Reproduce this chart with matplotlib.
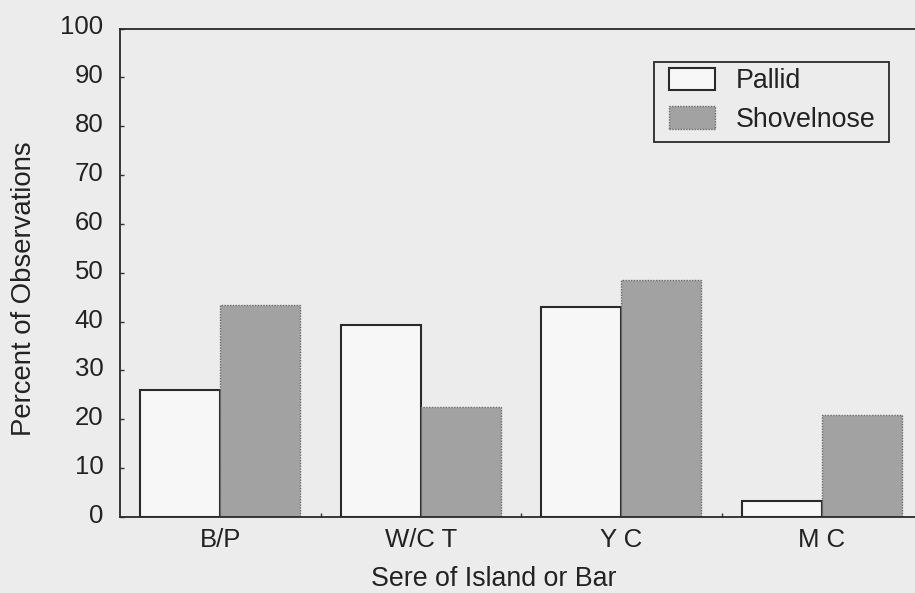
import numpy as np
import matplotlib
matplotlib.use('Agg')
import matplotlib.pyplot as plt
import matplotlib.transforms as mtransforms
from matplotlib.patches import Rectangle

plt.rcParams['font.family'] = ['Liberation Sans', 'DejaVu Sans']

seres = ['B/P', 'W/C T', 'Y C', 'M C']
pallid = [26.1, 39.3, 42.9, 3.2]
shovelnose = [43.3, 22.6, 48.5, 20.8]

bg = '#ececec'
ink = '#222222'
W, H = 915, 593
fig = plt.figure(figsize=(W / 100, H / 100), dpi=100, facecolor=bg)
# right edge runs just past the picture, as in the scan
ax = fig.add_axes([120 / W, 1 - 517 / H, 802 / W, (517 - 28.5) / H])
ax.set_facecolor(bg)

x = np.arange(len(seres)) + 0.5
w = 0.4
ax.bar(x - w / 2, pallid, w, color='#f7f7f7', edgecolor='#2a2a2a',
       linewidth=1.5, label='Pallid', zorder=2)
ax.bar(x + w / 2, shovelnose, w, color='#a2a2a2', edgecolor='#6a6a6a',
       linewidth=1.0, linestyle=(0, (1, 1)), label='Shovelnose', zorder=2)

ax.set_xlim(0, 4)
ax.set_ylim(0, 100)
ax.set_yticks(np.arange(0, 101, 10))
ax.set_xticks(x)
ax.set_xticklabels(seres)
ax.set_xticks([1, 2, 3], minor=True)

ax.tick_params(axis='y', direction='in', length=3, width=1, pad=12,
               labelsize=18.5, color='#333333', labelcolor=ink)
ax.tick_params(axis='x', which='major', length=0, pad=8, labelsize=18.5,
               labelcolor=ink)
ax.tick_params(axis='x', which='minor', direction='in', length=3, width=1,
               color='#333333')

# y labels sit a little above their ticks in the original
shift = mtransforms.ScaledTranslation(0, 3.5 / 100, fig.dpi_scale_trans)
for lab in ax.get_yticklabels():
    lab.set_transform(lab.get_transform() + shift)

for side in ['left', 'top', 'bottom', 'right']:
    ax.spines[side].set_color('#2a2a2a')
    ax.spines[side].set_linewidth(1.3)

ax.set_ylabel('Percent of Observations', fontsize=19.8, color=ink)
ax.set_xlabel('Sere of Island or Bar', fontsize=19.3, color=ink)
ax.yaxis.set_label_coords((37 - 120) / 802, (517 - 289) / 488.5)
ax.xaxis.set_label_coords((494 - 120) / 802, (517 - 566) / 488.5)

leg = ax.legend(loc='upper left', bbox_to_anchor=(668.5 / W, 1 - 67.5 / H),
                bbox_transform=fig.transFigure, fontsize=19.3, frameon=False,
                handlelength=1.74, handleheight=0.91, handletextpad=0.78,
                borderpad=0, labelspacing=0.46, borderaxespad=0)
for t in leg.get_texts():
    t.set_color(ink)

# legend box, wider padding at the sides than above and below
fig.patches.append(Rectangle((654.3 / W, 1 - 142.3 / H), 235 / W, 80.6 / H,
                             transform=fig.transFigure, fill=False,
                             edgecolor='#2a2a2a', linewidth=1.3))

fig.savefig('out.png', dpi=100, facecolor=bg)
